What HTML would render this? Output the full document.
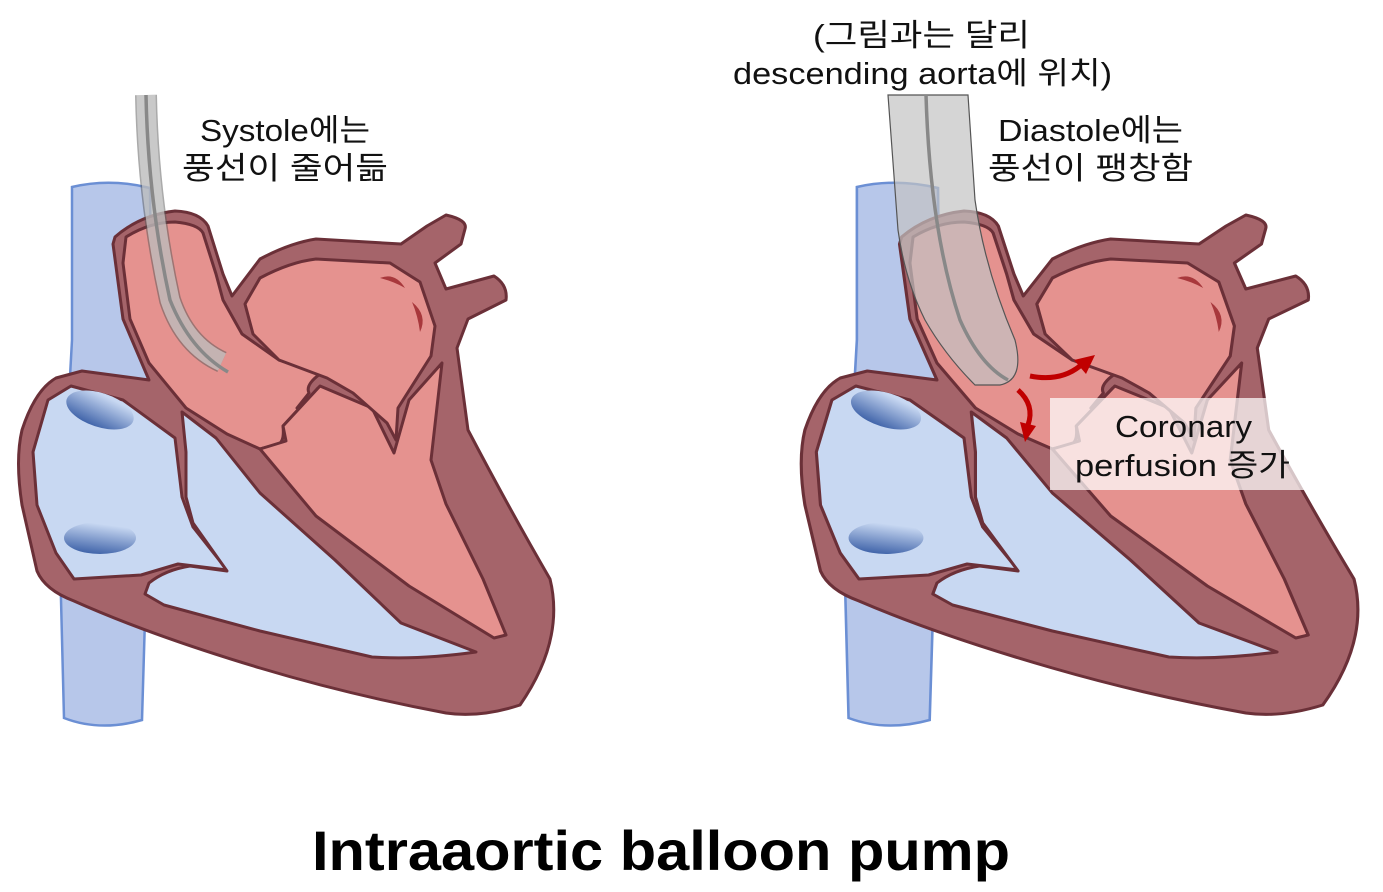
<!DOCTYPE html>
<html><head><meta charset="utf-8">
<style>
html,body{margin:0;padding:0;background:#fff;}
body{width:1383px;height:887px;overflow:hidden;position:relative;font-family:"Liberation Sans","Noto Sans CJK KR",sans-serif;}
</style></head><body>
<svg width="1383" height="887" viewBox="0 0 1383 887" xmlns="http://www.w3.org/2000/svg">
<defs>
<linearGradient id="bl" x1="0" y1="1" x2="0.3" y2="0">
<stop offset="0" stop-color="#2f55a0"/><stop offset="1" stop-color="#c8d8f2"/></linearGradient>
<g id="heart">
<path d="M72,187 Q110,178 150,188 L152,380 L142,720 Q100,732 64,718 L60,560 Q68,420 72,340 Z" fill="#b7c7ea" stroke="#6b8fd4" stroke-width="2.5"/>
<path d="M115,237 Q140,215 175,211 Q200,212 208,226 L223,274 L232,296 L260,259 Q290,243 316,239 L401,244 L427,226 L446,215 Q468,220 465,229 L461,244 L435,263 L446,289 L494,276 Q508,285 506,300 L468,319 L457,348 L468,430 Q510,510 550,579 Q565,640 520,705 Q480,718 446,713 Q350,695 260,668 Q150,635 74,601 Q45,590 37,571 L22,505 Q15,460 22,430 Q35,390 56,378 L82,371 L149,380 L123,319 L113,244 Z" fill="#a5646a" stroke="#6b3038" stroke-width="3" stroke-linejoin="round"/>
<path d="M71,386 L123,400 L175,438 L182,497 L193,527 L227,570 L178,564 L141,575 L74,579 L56,553 L37,505 L33,452 L48,400 Z" fill="#c8d8f2" stroke="#6b3038" stroke-width="3" stroke-linejoin="round"/>
<path d="M182,412 L216,438 L260,493 L335,560 L401,623 L476,652 Q420,660 372,657 L260,631 L164,605 L145,594 L149,583 Q165,570 190,566 L227,571 L193,523 L186,497 L186,452 Z" fill="#c8d8f2" stroke="#6b3038" stroke-width="3" stroke-linejoin="round"/>
<path d="M126,237 Q150,222 175,222 Q198,224 203,233 L216,274 L223,300 L242,334 L279,360 L320,374 Q305,385 309,393 L297,408 Q310,405 318,388 L283,426 Q285,445 275,445 L260,449 L227,434 L186,408 L149,363 L130,319 L123,263 Z" fill="#e5928f" stroke="#6b3038" stroke-width="3" stroke-linejoin="round"/>
<path d="M260,449 L286,441 L283,426 L320,386 L372,408 L394,453 L409,400 L442,363 L431,460 L446,504 L483,579 L506,635 L494,638 L409,586 L316,516 Z" fill="#e5928f" stroke="#6b3038" stroke-width="3" stroke-linejoin="round"/>
<path d="M245,304 L260,278 Q290,262 316,259 L390,263 L420,282 L435,326 L431,356 L398,408 L396,440 L387,423 L353,393 L327,378 L279,360 L253,334 Z" fill="#e5928f" stroke="#6b3038" stroke-width="3" stroke-linejoin="round"/>
<ellipse cx="100" cy="410" rx="35" ry="17" transform="rotate(18 100 410)" fill="url(#bl)"/>
<ellipse cx="100" cy="538" rx="36" ry="16" fill="url(#bl)"/>
<path d="M380,278 Q395,272 405,288 Q395,282 380,278Z" fill="#a8383c"/>
<path d="M412,302 Q428,315 420,332 Q418,316 412,302Z" fill="#a8383c"/>
</g>
</defs>
<use href="#heart"/>
<use href="#heart" transform="matrix(1.04 0 0 1 782 0)"/>
<!-- left catheter -->
<path d="M146,95 Q148,200 170,300 Q185,345 222,362" fill="none" stroke="#555" stroke-width="22" opacity="0.5"/>
<path d="M146,95 Q148,200 170,300 Q185,345 222,362" fill="none" stroke="#ddd" stroke-width="19" opacity="0.6"/>
<path d="M146,95 Q148,200 170,300 Q190,350 228,372" fill="none" stroke="#888" stroke-width="3.5"/>
<!-- right balloon -->
<path d="M888,95 L968,95 L975,200 Q985,270 1015,340 Q1025,380 1000,385 L975,385 Q945,355 925,320 Q905,280 898,230 Z" fill="rgba(195,195,195,0.7)" stroke="#555" stroke-width="1.2"/>
<path d="M926,95 Q930,230 960,320 Q980,365 1008,380" fill="none" stroke="#888" stroke-width="3.5"/>
<!-- red arrows -->
<path d="M1030,376 Q1060,382 1080,366" fill="none" stroke="#c00000" stroke-width="5"/>
<polygon points="1095,355 1074,360 1086,374" fill="#c00000"/>
<path d="M1018,390 Q1035,405 1028,425" fill="none" stroke="#c00000" stroke-width="5"/>
<polygon points="1025,442 1020,422 1036,426" fill="#c00000"/>
<rect x="1050" y="398" width="263" height="92" fill="rgba(255,255,255,0.72)"/>
<g font-size="31" fill="#111" font-family="Liberation Sans, Noto Sans CJK KR, sans-serif" lengthAdjust="spacingAndGlyphs">
<text x="200" y="141" textLength="170" lengthAdjust="spacingAndGlyphs">Systole에는</text>
<text x="182" y="179" textLength="206" lengthAdjust="spacingAndGlyphs">풍선이 줄어듦</text>
<text x="998" y="141" textLength="185" lengthAdjust="spacingAndGlyphs">Diastole에는</text>
<text x="988" y="179" textLength="205" lengthAdjust="spacingAndGlyphs">풍선이 팽창함</text>
<text x="813" y="46" textLength="217" lengthAdjust="spacingAndGlyphs">(그림과는 달리</text>
<text x="733" y="84" textLength="379" lengthAdjust="spacingAndGlyphs">descending aorta에 위치)</text>
<text x="1115" y="437" textLength="137" lengthAdjust="spacingAndGlyphs">Coronary</text>
<text x="1075" y="476" textLength="215" lengthAdjust="spacingAndGlyphs">perfusion 증가</text>
</g>
<text x="312" y="870" font-size="56" font-weight="bold" fill="#000" textLength="698" lengthAdjust="spacingAndGlyphs" font-family="Liberation Sans, sans-serif">Intraaortic balloon pump</text>
</svg>
</body></html>
